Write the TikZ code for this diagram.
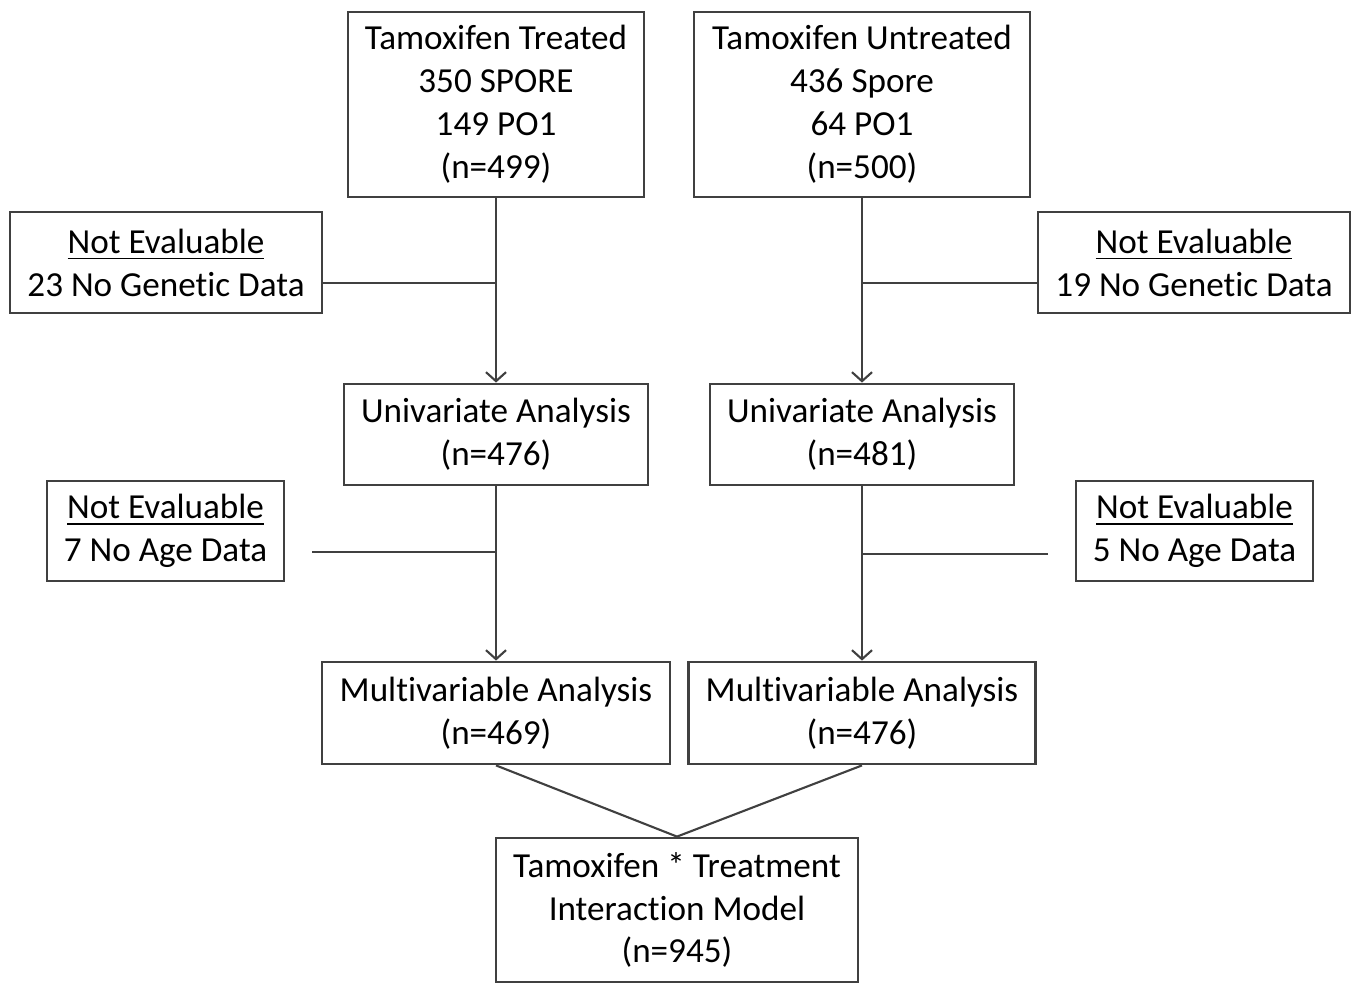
\documentclass[tikz,border=0pt]{standalone}
\usepackage{fontspec}
\setmainfont[Ligatures={NoCommon}]{Carlito}
\usetikzlibrary{arrows.meta}

\begin{document}
\begin{tikzpicture}[
  box/.style = {draw = black!75, line width = 0.8pt, shape = rectangle, align = center, inner sep = 0pt, font = \fontsize{10}{12.2}\selectfont},
  link/.style = {draw = black!75, line width = 0.6pt},
  flow/.style = {link, -{Straight Barb[length = 0.9mm, width = 2mm]}}
]
\useasboundingbox (0,0) rectangle (13.56,-9.84);
% treated arm
\node[box, minimum width = 2.96cm, minimum height = 1.85cm] (10) at (4.96,-1.045) {Tamoxifen Treated\\350 SPORE\\149 PO1\\(n=499)};
\node[box, minimum width = 3.12cm, minimum height = 1.01cm] (11) at (1.66,-2.625) {\underline{Not Evaluable}\\23 No Genetic Data};
\node[box, minimum width = 3.04cm, minimum height = 1.01cm] (12) at (4.96,-4.345) {Univariate Analysis\\(n=476)};
\node[box, minimum width = 2.37cm, minimum height = 1.00cm] (13) at (1.655,-5.31) {\underline{Not Evaluable}\\7 No Age Data};
\node[box, minimum width = 3.48cm, minimum height = 1.02cm] (14) at (4.96,-7.13) {Multivariable Analysis\\(n=469)};
% untreated arm
\node[box, minimum width = 3.36cm, minimum height = 1.85cm] (20) at (8.62,-1.045) {Tamoxifen Untreated\\436 Spore\\64 PO1\\(n=500)};
\node[box, minimum width = 3.12cm, minimum height = 1.01cm] (21) at (11.94,-2.625) {\underline{Not Evaluable}\\19 No Genetic Data};
\node[box, minimum width = 3.04cm, minimum height = 1.01cm] (22) at (8.62,-4.345) {Univariate Analysis\\(n=481)};
\node[box, minimum width = 2.37cm, minimum height = 1.00cm] (23) at (11.945,-5.31) {\underline{Not Evaluable}\\5 No Age Data};
\node[box, minimum width = 3.47cm, minimum height = 1.02cm] (24) at (8.62,-7.13) {Multivariable Analysis\\(n=476)};
% combined
\node[box, minimum width = 3.62cm, minimum height = 1.44cm] (30) at (6.77,-9.10) {Tamoxifen * Treatment\\Interaction Model\\(n=945)};

\coordinate (j11) at (4.96,-2.83);
\coordinate (j13) at (4.96,-5.52);
\coordinate (e13) at (3.12,-5.52);
\coordinate (j21) at (8.62,-2.83);
\coordinate (j23) at (8.62,-5.54);
\coordinate (e23) at (10.48,-5.54);

\draw[flow] (10) -- (12);
\draw[flow] (12) -- (14);
\draw[flow] (20) -- (22);
\draw[flow] (22) -- (24);
\draw[link] (11.east |- j11) -- (j11);
\draw[link] (e13) -- (j13);
\draw[link] (21.west |- j21) -- (j21);
\draw[link] (e23) -- (j23);
\draw[link] (14.south) -- (30.north);
\draw[link] (24.south) -- (30.north);
\end{tikzpicture}
\end{document}
